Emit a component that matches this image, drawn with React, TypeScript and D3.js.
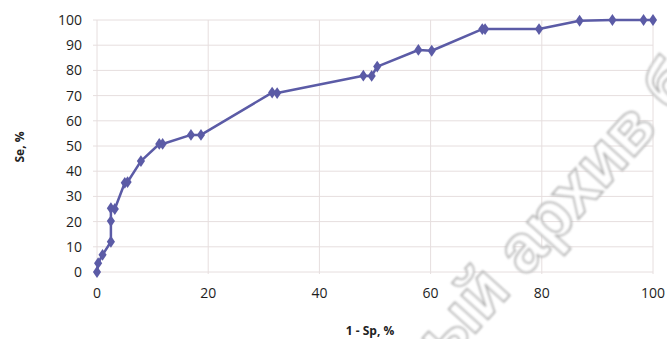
import React, { useEffect, useRef } from 'react';
import * as d3 from 'd3';

// ROC curve points
const fpr = [0, 0.2, 1, 2.5, 2.5, 2.5, 3.2, 5, 5.5, 7.9, 11.2, 11.8, 16.9, 18.7, 31.5, 32.4, 47.9, 49.4, 50.4, 57.8, 60.2, 69.3, 69.8, 79.5, 86.8, 92.7, 98.3, 100];
const tpr = [0, 3.5, 6.8, 12, 20.2, 25.3, 25, 35.4, 35.7, 44, 50.8, 50.8, 54.4, 54.4, 71.2, 71, 77.9, 77.8, 81.5, 88.1, 87.8, 96.4, 96.4, 96.4, 99.7, 100, 100, 100];
const xTicks = [0, 20, 40, 60, 80, 100];
const yTicks = [0, 10, 20, 30, 40, 50, 60, 70, 80, 90, 100];
const xLabel = '1 - Sp, %';
const yLabel = 'Se, %';
const watermark = 'ый архив б';

const W = 667;
const H = 339;

const Chart = () => {
  const ref = useRef<SVGSVGElement>(null);

  useEffect(() => {
    const svg = d3.select(ref.current);
    svg.selectAll('*').remove();
    svg.attr('width', W).attr('height', H);

    const x = d3.scaleLinear().domain([0, 100]).range([97, 653]);
    const y = d3.scaleLinear().domain([0, 100]).range([272, 20]);
    const font = '"Open Sans", sans-serif';
    const grid = '#e6dede';

    svg.append('rect').attr('width', W).attr('height', H).attr('fill', '#fff');

    // horizontal grid
    svg.append('g').selectAll('line').data(yTicks).enter().append('line')
      .attr('x1', x(0) - 4).attr('x2', x(100))
      .attr('y1', d => y(d)).attr('y2', d => y(d))
      .attr('stroke', grid).attr('stroke-width', 1);

    // vertical grid
    svg.append('g').selectAll('line').data(xTicks).enter().append('line')
      .attr('x1', d => x(d)).attr('x2', d => x(d))
      .attr('y1', y(100)).attr('y2', y(0) + 2)
      .attr('stroke', grid).attr('stroke-width', 1);

    svg.append('g').selectAll('text').data(yTicks).enter().append('text')
      .attr('x', 82).attr('y', d => y(d)).attr('dy', '0.35em')
      .attr('text-anchor', 'end')
      .style('font-family', font).style('font-size', '14px').attr('fill', '#1e1e1e')
      .text(d => d);

    svg.append('g').selectAll('text').data(xTicks).enter().append('text')
      .attr('x', d => x(d)).attr('y', 293).attr('dy', '0.35em')
      .attr('text-anchor', 'middle')
      .style('font-family', font).style('font-size', '14px').attr('fill', '#1e1e1e')
      .text(d => d);

    svg.append('text')
      .attr('transform', 'translate(24,147) rotate(-90)')
      .attr('text-anchor', 'middle')
      .style('font-family', font).style('font-size', '12px').style('font-weight', 'bold')
      .attr('fill', '#222').text(yLabel);

    svg.append('text')
      .attr('x', 370).attr('y', 331).attr('dy', '0.35em')
      .attr('text-anchor', 'middle')
      .style('font-family', font).style('font-size', '12px').style('font-weight', 'bold')
      .attr('fill', '#222').text(xLabel);

    const pts = fpr.map((v, i) => [v, tpr[i]] as [number, number]);
    const color = '#5b5ba6';

    svg.append('path')
      .datum(pts)
      .attr('d', d3.line<[number, number]>().x(d => x(d[0])).y(d => y(d[1])))
      .attr('fill', 'none').attr('stroke', color).attr('stroke-width', 2.5)
      .attr('stroke-linejoin', 'round');

    const diamond = d3.symbol().type(d3.symbolDiamond).size(40);
    svg.append('g').selectAll('path').data(pts).enter().append('path')
      .attr('d', diamond)
      .attr('transform', d => `translate(${x(d[0])},${y(d[1])}) scale(1.2,1)`)
      .attr('fill', color);

    // watermark
    const defs = svg.append('defs');
    defs.append('filter').attr('id', 'wmblur')
      .append('feGaussianBlur').attr('stdDeviation', 1);

    svg.append('text')
      .attr('transform', 'translate(446,366) rotate(-48)')
      .style('font-family', '"Liberation Sans", Arial, sans-serif')
      .style('font-size', '68px').style('font-weight', 'bold')
      .attr('fill', '#fff').attr('stroke', '#b4b4b4').attr('stroke-width', 1.8)
      .attr('filter', 'url(#wmblur)')
      .text(watermark);
  }, []);

  return <svg ref={ref} style={{ display: 'block' }}></svg>;
};

export default function App() {
  return (
    <div style={{ position: 'absolute', left: 0, top: 0 }}>
      <Chart />
    </div>
  );
}
